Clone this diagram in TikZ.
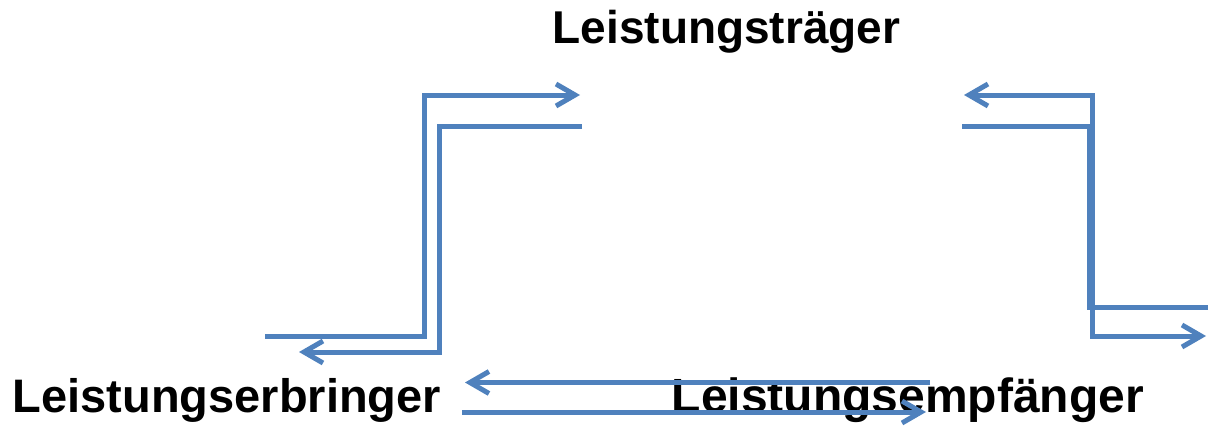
\documentclass[tikz,border=0pt]{standalone}
\usepackage{fontspec}
\setmainfont{Liberation Sans}
\usetikzlibrary{arrows.meta}
\definecolor{flowblue}{RGB}{79,129,189}
\tikzset{
  role/.style={anchor=base west, inner sep=0pt, font=\bfseries\fontsize{#1}{50}\selectfont},
  flow/.style={draw=flowblue, line width=5pt, line cap=butt, line join=miter},
  tipped/.style={flow, -{Straight Barb[length=19pt,width=22pt]}},
}
\begin{document}
\begin{tikzpicture}[x=1pt,y=-1pt]
\useasboundingbox (0,0) rectangle (1208,426);
% party labels
\node[role=46] (traeger) at (552.5,43.3) {Leistungsträger};
\node[role=47] (erbringer) at (12.5,412.7) {Leistungserbringer};
\node[role=48] (empfaenger) at (671.5,412.7) {Leistungsempfänger};
% end points of the flows
\coordinate (a0) at (265,336);
\coordinate (a1) at (580,95);
\coordinate (b0) at (582,126.5);
\coordinate (b1) at (299,352);
\coordinate (c0) at (962,126.5);
\coordinate (c1) at (1208,307);
\coordinate (d0) at (964,95);
\coordinate (d1) at (1206,336);
\coordinate (e0) at (930,382.5);
\coordinate (e1) at (465,382.5);
\coordinate (f0) at (462,412);
\coordinate (f1) at (926,412);
% left pair: Leistungserbringer <-> Leistungsträger
\draw[tipped] (a0) -| (424,95) -- (a1);
\draw[tipped] (b0) -| (439,352) -- (b1);
% right pair: Leistungsträger <-> Leistungsempfänger
\draw[flow] (c0) -| (1089,307) -- (c1);
\draw[flow, {Straight Barb[length=19pt,width=22pt]}-{Straight Barb[length=19pt,width=22pt]}]
  (d0) -- (1092.5,95) -- (1092.5,336) -- (d1);
% bottom pair: Leistungserbringer <-> Leistungsempfänger
\draw[tipped] (e0) -- (e1);
\draw[tipped] (f0) -- (f1);
\end{tikzpicture}
\end{document}
